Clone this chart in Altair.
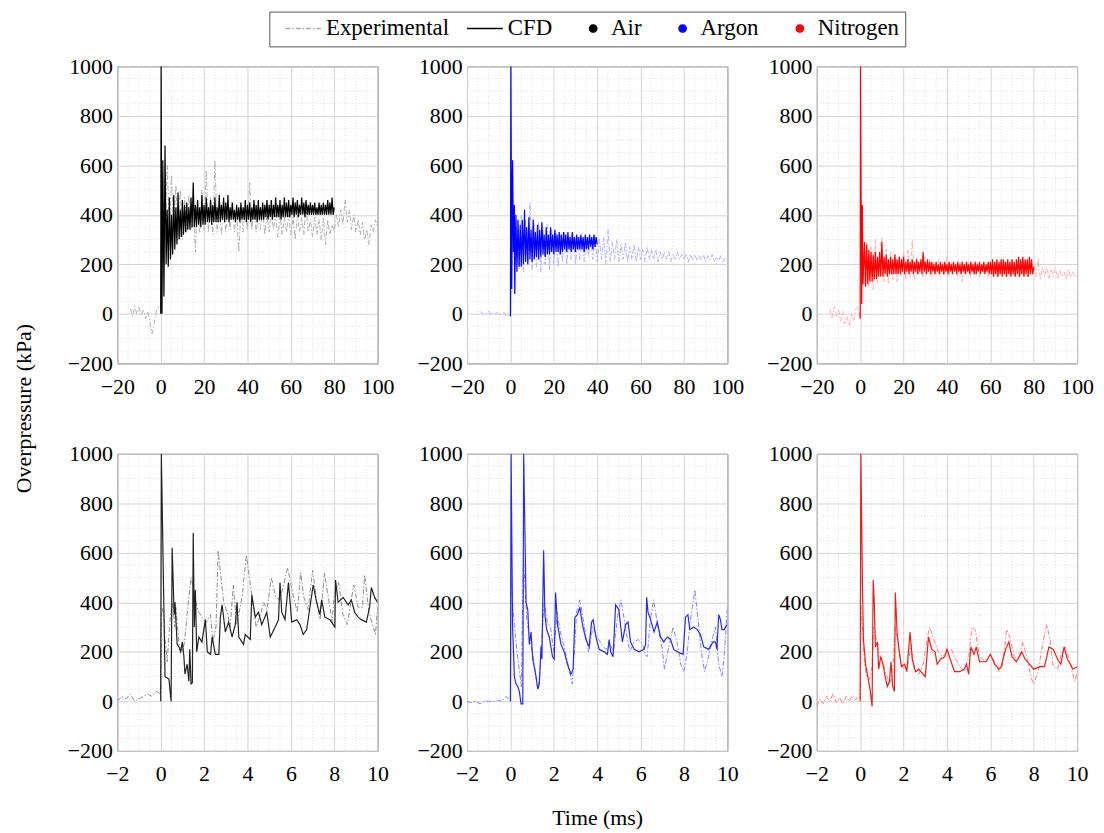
import altair as alt
import pandas as pd

FONT = "Liberation Serif"

# ---------------- long-time (top row) data ----------------
EXP_T0 = -14        # first experimental sample (ms), step 1 ms
EXP_DT = 1.0
CFD_BODY_T0 = 2     # first CFD body sample (ms), step 0.5 ms
CFD_DT = 0.5

AIR_TOP_EXP = [20, -10, 30, 0, 25, -5, 15, -20, 10, -30, -80, -40, 10, 30,
               20, 450, 300, 600, 350, 560, 330, 520, 320, 500,
               300, 470, 330, 480, 340, 470, 250, 460, 330, 500,
               340, 580, 330, 470, 320, 620, 330, 450, 320, 430,
               330, 420, 340, 440, 330, 420, 250, 420, 330, 430,
               340, 530, 340, 420, 330, 410, 340, 420, 320, 400,
               330, 410, 340, 400, 310, 400, 320, 390, 330, 400,
               320, 390, 300, 400, 330, 390, 320, 440, 330, 380,
               310, 390, 320, 380, 300, 390, 280, 380, 320, 360,
               330, 400, 350, 420, 360, 460, 370, 420, 340, 400,
               330, 380, 320, 370, 300, 340, 280, 360, 330, 380, 350]
AIR_TOP_CFD_ONSET_T = [0, 0.2, 0.6, 1.0, 1.5]
AIR_TOP_CFD_ONSET_V = [0, 1000, 0, 620, 70]
AIR_TOP_CFD = [680, 200, 420, 190, 470, 220, 400, 240, 480, 260, 430, 280, 490, 300, 420, 310,
               460, 320, 440, 330, 450, 340, 430, 340, 470, 350, 530, 350, 440, 350, 460, 360,
               430, 350, 480, 360, 440, 360, 470, 370, 430, 370, 460, 360, 440, 370, 470, 370,
               430, 370, 480, 370, 440, 380, 470, 370, 450, 380, 480, 370, 430, 380, 450, 380,
               420, 370, 440, 380, 430, 370, 450, 380, 430, 380, 460, 370, 440, 380, 450, 370,
               430, 380, 460, 380, 440, 370, 460, 380, 430, 380, 450, 380, 440, 390, 460, 380,
               440, 390, 460, 380, 440, 390, 470, 390, 440, 390, 460, 380, 440, 390, 470, 390,
               450, 390, 460, 390, 440, 400, 470, 390, 450, 400, 460, 390, 440, 400, 470, 400,
               450, 390, 460, 400, 440, 400, 450, 400, 440, 400, 450, 400, 430, 400, 450, 400,
               440, 400, 450, 400, 440, 400, 460, 400, 450, 400, 470, 400, 430]

ARGON_TOP_EXP = [10, 0, 5, 0, 10, -5, 5, 0, 5, -5, 0, 5, -10, -5,
                 -10, 300, 200, 380, 180, 400, 170, 380, 200, 450,
                 180, 360, 190, 370, 170, 350, 200, 360, 180, 340,
                 200, 330, 190, 320, 210, 330, 200, 310, 220, 320,
                 200, 310, 220, 300, 210, 310, 230, 300, 220, 320,
                 210, 300, 220, 310, 200, 340, 210, 290, 220, 300,
                 210, 280, 220, 290, 210, 270, 220, 280, 210, 270,
                 220, 260, 210, 270, 220, 260, 220, 260, 210, 250,
                 220, 250, 220, 250, 210, 240, 220, 250, 220, 240,
                 220, 240, 210, 240, 220, 240, 215, 235, 220, 240,
                 210, 235, 220, 240, 210, 230, 215, 235, 210, 225, 215]
ARGON_TOP_CFD_ONSET_T = [0, 0.2, 0.6, 1.0, 1.4, 1.8]
ARGON_TOP_CFD_ONSET_V = [-10, 1000, 100, 620, 250, 440]
ARGON_TOP_CFD = [80, 400, 170, 380, 190, 360, 190, 380, 200, 420, 210, 350, 200, 390, 220, 340,
                 210, 380, 220, 330, 230, 360, 220, 340, 230, 370, 240, 320, 230, 350, 240, 320,
                 240, 350, 250, 320, 240, 340, 250, 320, 250, 330, 240, 320, 250, 330, 260, 320,
                 250, 330, 260, 310, 250, 330, 260, 310, 250, 320, 260, 310, 260, 320, 260, 310,
                 250, 320, 260, 310, 260, 320, 270, 310, 260, 320, 270, 310, 280]

NITRO_TOP_EXP = [20, -20, 30, -10, 20, -30, 10, -40, -10, -50, 0, -30, 20, 30,
                 -20, 250, 120, 290, 110, 270, 100, 300, 120, 250,
                 310, 130, 260, 120, 250, 140, 240, 130, 230, 150,
                 250, 140, 260, 150, 300, 140, 230, 160, 220, 150,
                 230, 160, 220, 150, 210, 160, 220, 150, 210, 160,
                 230, 150, 210, 160, 200, 150, 210, 130, 200, 160,
                 210, 150, 200, 160, 210, 150, 200, 160, 190, 150,
                 200, 160, 190, 150, 200, 160, 190, 150, 200, 160,
                 190, 150, 200, 150, 190, 160, 200, 150, 190, 160,
                 200, 150, 220, 140, 190, 150, 190, 140, 180, 150,
                 190, 140, 180, 150, 170, 140, 180, 150, 170, 150, 165]
NITRO_TOP_CFD_ONSET_T = [0, 0.15, 0.4, 0.7, 1.0, 1.3]
NITRO_TOP_CFD_ONSET_V = [-20, 1000, 490, 40, 440, 120]
NITRO_TOP_CFD = [290, 110, 280, 120, 260, 130, 250, 130, 240, 140, 250, 140, 230, 150, 250, 150,
                 290, 150, 230, 160, 240, 150, 220, 160, 230, 160, 220, 160, 240, 160, 220, 160,
                 230, 160, 220, 170, 230, 160, 210, 170, 220, 160, 210, 170, 220, 160, 210, 170,
                 220, 160, 210, 170, 220, 160, 250, 170, 210, 160, 220, 170, 210, 160, 210, 170,
                 200, 160, 210, 170, 200, 160, 210, 170, 200, 160, 210, 170, 200, 160, 210, 170,
                 200, 160, 210, 170, 200, 160, 210, 170, 200, 160, 210, 170, 200, 160, 210, 170,
                 200, 160, 210, 170, 200, 160, 210, 160, 200, 170, 210, 160, 200, 170, 210, 160,
                 200, 170, 210, 160, 210, 160, 220, 150, 210, 160, 220, 150, 210, 160, 220, 150,
                 220, 160, 210, 150, 220, 160, 210, 150, 220, 160, 210, 150, 220, 160, 230, 150,
                 220, 160, 230, 150, 220, 160, 220, 150, 230, 160, 220, 160, 190]

# ---------------- short-time (bottom row) data ----------------
AIR_BOT_CFD_T = [0, 0.03, 0.2, 0.38, 0.48, 0.53, 0.62, 0.66, 0.76, 0.84, 0.92, 1.0, 1.07, 1.12, 1.22,
                 1.3, 1.34, 1.4, 1.46, 1.5, 1.55, 1.6, 1.66, 1.76, 1.9, 2.06, 2.15, 2.3, 2.37, 2.52,
                 2.68, 2.75, 2.83, 2.98, 3.13, 3.29, 3.44, 3.52, 3.6, 3.82, 3.9, 4.13, 4.2, 4.36, 4.51,
                 4.66, 4.89, 5.05, 5.28, 5.43, 5.5, 5.58, 5.73, 5.89, 6.04, 6.27, 6.42, 6.57, 6.73, 6.88,
                 7.03, 7.19, 7.34, 7.42, 7.57, 7.8, 8.03, 8.06, 8.18, 8.41, 8.64, 8.79, 8.94, 9.1, 9.25,
                 9.48, 9.63, 9.71, 9.86, 10.0]
AIR_BOT_CFD_V = [0, 1000, 100, 90, 0, 620, 350, 400, 230, 220, 200, 240, 180, 110, 150,
                 80, 210, 70, 75, 680, 300, 450, 200, 260, 240, 330, 200, 190, 260, 190,
                 190, 340, 390, 280, 320, 260, 310, 400, 260, 230, 270, 250, 430, 340, 360,
                 310, 360, 260, 300, 330, 480, 360, 330, 480, 320, 330, 310, 270, 290, 380,
                 470, 400, 350, 410, 340, 330, 300, 490, 400, 420, 390, 410, 360, 340, 330,
                 320, 380, 460, 420, 400]
AIR_BOT_EXP_T = [-2, -1.8, -1.6, -1.4, -1.2, -1.0, -0.8, -0.6, -0.4, -0.2, 0,
                 0.05, 0.15, 0.2, 0.3, 0.45, 0.55, 0.65, 0.7, 0.85, 1.0, 1.1, 1.25, 1.4, 1.5, 1.7,
                 1.9, 2.1, 2.3, 2.4, 2.55, 2.65, 2.9, 3.1, 3.2, 3.35, 3.5, 3.75, 3.95, 4.2, 4.4,
                 4.6, 4.75, 4.9, 5.1, 5.3, 5.5, 5.85, 6.1, 6.3, 6.45, 6.6, 6.8, 7.0, 7.2, 7.35,
                 7.55, 7.8, 7.9, 8.0, 8.2, 8.4, 8.6, 8.9, 9.1, 9.3, 9.4, 9.6, 9.9, 10.0]
AIR_BOT_EXP_V = [0, 20, 10, 30, 0, 10, 20, 30, 20, 40, 30,
                 380, 350, 250, 160, 350, 400, 300, 380, 230, 200, 240, 380, 500, 460, 370,
                 340, 320, 350, 240, 300, 610, 400, 350, 300, 470, 310, 420, 590, 430, 300,
                 350, 400, 370, 500, 420, 410, 540, 430, 360, 520, 420, 370, 530, 400, 330,
                 520, 380, 320, 430, 480, 350, 310, 470, 380, 380, 510, 360, 270, 380]

ARGON_BOT_CFD_T = [0, 0.03, 0.1, 0.18, 0.26, 0.34, 0.41, 0.49, 0.57, 0.61, 0.72, 0.8, 0.87, 0.95, 1.03,
                   1.18, 1.26, 1.33, 1.41, 1.45, 1.53, 1.59, 1.67, 1.79, 1.94, 2.02, 2.08, 2.17, 2.33, 2.48,
                   2.63, 2.79, 2.89, 2.97, 3.09, 3.2, 3.32, 3.48, 3.63, 3.74, 3.81, 3.94, 4.09, 4.32, 4.47,
                   4.55, 4.62, 4.73, 4.85, 5.0, 5.16, 5.31, 5.42, 5.54, 5.7, 5.93, 6.16, 6.23, 6.28, 6.34,
                   6.46, 6.62, 6.77, 6.92, 7.07, 7.23, 7.38, 7.53, 7.69, 7.96, 8.07, 8.18, 8.27, 8.45, 8.61,
                   8.76, 8.91, 9.14, 9.34, 9.45, 9.52, 9.6, 9.68, 9.75, 9.86, 9.98]
ARGON_BOT_CFD_V = [0, 1000, 300, 100, 70, 60, 40, -10, -10, 1000, 400, 370, 230, 280, 170,
                   100, 50, 70, 220, 170, 610, 350, 290, 260, 180, 170, 440, 310, 230, 200,
                   150, 110, 130, 340, 350, 380, 310, 250, 220, 320, 330, 260, 210, 200, 190,
                   250, 200, 180, 390, 370, 240, 310, 320, 240, 210, 200, 210, 230, 420, 360,
                   330, 280, 320, 260, 240, 260, 250, 210, 200, 190, 340, 350, 290, 300, 290,
                   270, 220, 210, 240, 240, 210, 350, 330, 290, 290, 310]
ARGON_BOT_EXP_T = [-2, -1.8, -1.6, -1.4, -1.2, -1.0, -0.8, -0.6, -0.4, -0.2, -0.1, 0,
                   0.02, 0.1, 0.2, 0.3, 0.45, 0.5, 0.6, 0.75, 0.9, 1.0, 1.1, 1.25, 1.35, 1.45, 1.55,
                   1.7, 1.85, 2.0, 2.15, 2.3, 2.45, 2.6, 2.85, 2.95, 3.05, 3.2, 3.45, 3.6, 3.7, 3.8,
                   4.0, 4.2, 4.4, 4.6, 4.75, 4.95, 5.1, 5.3, 5.5, 5.7, 5.9, 6.1, 6.2, 6.3, 6.45,
                   6.6, 6.8, 7.0, 7.1, 7.25, 7.5, 7.7, 7.85, 8.0, 8.15, 8.3, 8.5, 8.65, 8.8, 8.95,
                   9.1, 9.3, 9.45, 9.6, 9.75, 9.85, 10.0]
ARGON_BOT_EXP_V = [0, -5, 0, -10, 0, 0, 0, 5, 0, 20, 10, 0,
                   500, 400, 300, 200, 100, 60, 580, 330, 250, 200, 150, 50, 100, 260, 400,
                   320, 300, 200, 360, 280, 230, 170, 70, 200, 360, 410, 280, 200, 250, 300,
                   260, 230, 210, 230, 200, 350, 410, 300, 200, 240, 250, 230, 190, 180, 330,
                   410, 300, 210, 130, 200, 300, 230, 150, 120, 200, 330, 450, 330, 200, 120,
                   170, 250, 300, 150, 100, 180, 380]

NITRO_BOT_CFD_T = [0, 0.03, 0.1, 0.15, 0.25, 0.35, 0.45, 0.55, 0.6, 0.65, 0.7, 0.8, 0.85, 0.95, 1.05,
                   1.15, 1.25, 1.35, 1.42, 1.5, 1.58, 1.62, 1.7, 1.8, 1.9, 2.05, 2.15, 2.3, 2.4, 2.55,
                   2.7, 2.9, 3.0, 3.15, 3.3, 3.45, 3.55, 3.7, 3.9, 4.0, 4.15, 4.35, 4.6, 4.8, 4.9,
                   5.0, 5.1, 5.25, 5.35, 5.5, 5.8, 6.0, 6.2, 6.4, 6.5, 6.7, 6.85, 7.0, 7.2, 7.45,
                   7.6, 7.8, 8.0, 8.3, 8.5, 8.7, 8.9, 9.1, 9.25, 9.4, 9.55, 9.7, 9.8, 10.0]
NITRO_BOT_CFD_V = [0, 1000, 500, 250, 150, 100, 50, -20, 490, 400, 220, 240, 130, 180, 150,
                   100, 60, 80, 160, 60, 40, 440, 280, 200, 140, 150, 120, 280, 170, 120,
                   130, 110, 100, 260, 210, 200, 150, 170, 180, 210, 170, 120, 120, 130, 150,
                   110, 220, 190, 220, 160, 160, 190, 150, 130, 140, 210, 240, 180, 160, 200,
                   170, 150, 130, 140, 140, 220, 210, 170, 150, 220, 170, 150, 130, 140]
NITRO_BOT_EXP_T = [-2, -1.85, -1.7, -1.55, -1.4, -1.25, -1.1, -0.95, -0.8, -0.65, -0.5, -0.35, -0.2, -0.1, 0,
                   0.03, 0.1, 0.2, 0.3, 0.45, 0.55, 0.62, 0.72, 0.85, 1.0, 1.2, 1.35, 1.5, 1.6, 1.7,
                   1.85, 2.0, 2.2, 2.35, 2.5, 2.7, 2.9, 3.1, 3.2, 3.4, 3.6, 3.8, 4.0, 4.2, 4.4,
                   4.6, 4.8, 5.0, 5.15, 5.3, 5.5, 5.8, 6.0, 6.2, 6.4, 6.55, 6.75, 6.9, 7.1, 7.3,
                   7.5, 7.65, 7.9, 8.0, 8.2, 8.45, 8.6, 8.75, 8.9, 9.1, 9.3, 9.45, 9.6, 9.8, 9.9, 10.0]
NITRO_BOT_EXP_V = [-20, 10, -10, 20, 0, 30, -5, 15, -10, 20, 0, 25, 5, 20, 10,
                   390, 300, 150, 100, 90, 140, 300, 260, 200, 170, 110, 70, 100, 300, 260,
                   170, 130, 150, 230, 130, 110, 150, 260, 300, 250, 200, 180, 200, 210, 170,
                   140, 120, 180, 300, 290, 180, 160, 190, 160, 120, 140, 290, 260, 180, 170,
                   240, 190, 90, 70, 120, 250, 310, 250, 140, 130, 200, 220, 180, 110, 80, 120]

# ---------------- axes / ticks ----------------
Y_DOMAIN = [-200, 1000]
Y_TICKS = [-200, 0, 200, 400, 600, 800, 1000]
Y_MINOR = [-150, -100, -50, 50, 100, 150, 250, 300, 350, 450, 500, 550, 650, 700, 750, 850, 900, 950]
TOP_X_DOMAIN = [-20, 100]
TOP_X_TICKS = [-20, 0, 20, 40, 60, 80, 100]
TOP_X_MINOR = [-15, -10, -5, 5, 10, 15, 25, 30, 35, 45, 50, 55, 65, 70, 75, 85, 90, 95]
BOT_X_DOMAIN = [-2, 10]
BOT_X_TICKS = [-2, 0, 2, 4, 6, 8, 10]
BOT_X_MINOR = [-1.5, -1, -0.5, 0.5, 1, 1.5, 2.5, 3, 3.5, 4.5, 5, 5.5, 6.5, 7, 7.5, 8.5, 9, 9.5]

LEGEND_KEYS = ["Experimental", "CFD", "Air", "Argon", "Nitrogen"]
LINE_PATH = "M-0.6,0L1,0"
DOT_PATH = "M0.26,0A0.16,0.16,0,1,1,0.58,0A0.16,0.16,0,1,1,0.26,0Z"
LEGEND_SHAPES = [LINE_PATH, LINE_PATH, DOT_PATH, DOT_PATH, DOT_PATH]
LEGEND_STROKES = ["#a8a8a8", "#000000", "#000000", "#0000ff", "#ff0000"]
LEGEND_FILLS = ["transparent", "transparent", "#000000", "#0000ff", "#ff0000"]
LEGEND_DASHES = [[5, 2, 1.5, 2], [1, 0], [1, 0], [1, 0], [1, 0]]

EXP_DASH = [5, 2, 1.5, 2]


def seq(start, n, step):
    return [start + i * step for i in range(n)]


def panel(exp_t, exp_v, cfd_t, cfd_v, xdom, xticks, xminor, cfd_color, exp_color,
          cfd_width, exp_width, xtitle=None, ytitle=None, legend=False, w=262, h=299):
    xs = alt.Scale(domain=xdom, nice=False, zero=False)
    ys = alt.Scale(domain=Y_DOMAIN, nice=False, zero=False)
    common = dict(grid=True, labelFont=FONT, labelFontSize=22, labelColor="black",
                  labelOverlap=False, labelFlush=False, format="d", domain=False, ticks=False)
    if xtitle:
        xaxis = alt.Axis(values=xticks, title=xtitle, titlePadding=23, titleFont=FONT,
                         titleFontSize=22, titleFontWeight="normal", titleColor="black",
                         labelPadding=13, **common)
    else:
        xaxis = alt.Axis(values=xticks, title=None, labelPadding=13, **common)
    if ytitle:
        yaxis = alt.Axis(values=Y_TICKS, title=ytitle, titleX=-94, titleY=344,
                         titleBaseline="middle", titleAlign="center", titleFont=FONT,
                         titleFontSize=22, titleFontWeight="normal", titleColor="black",
                         labelPadding=5, **common)
    else:
        yaxis = alt.Axis(values=Y_TICKS, title=None, labelPadding=5, **common)
    X = alt.X("t:Q", scale=xs, axis=xaxis)
    Y = alt.Y("v:Q", scale=ys, axis=yaxis)

    gx = alt.Chart(pd.DataFrame({"t": xminor})).mark_rule(
        color="#d9d9d9", strokeWidth=0.8, strokeDash=[1, 2]).encode(x=X)
    gy = alt.Chart(pd.DataFrame({"v": Y_MINOR})).mark_rule(
        color="#d9d9d9", strokeWidth=0.8, strokeDash=[1, 2]).encode(y=Y)
    exp = alt.Chart(pd.DataFrame({"t": exp_t, "v": exp_v})).mark_line(
        clip=True, color=exp_color, strokeWidth=exp_width, strokeDash=EXP_DASH).encode(x=X, y=Y)
    cfd = alt.Chart(pd.DataFrame({"t": cfd_t, "v": cfd_v})).mark_line(
        clip=True, color=cfd_color, strokeWidth=cfd_width).encode(x=X, y=Y)
    layers = [gx, gy, exp, cfd]
    if legend:
        leg = alt.Legend(title=None, orient="none", legendX=153, legendY=-55,
                         direction="horizontal", clipHeight=22, symbolSize=2025,
                         symbolStrokeWidth=1.5, symbolOpacity=1,
                         labelFont=FONT, labelFontSize=23, labelColor="black",
                         labelOffset=4, columnPadding=8, strokeColor="#555555",
                         padding=6, fillColor="white")
        dummy = alt.Chart(pd.DataFrame({"key": LEGEND_KEYS})).mark_point(
            opacity=0, strokeWidth=1.5).encode(
            shape=alt.Shape("key:N", scale=alt.Scale(domain=LEGEND_KEYS, range=LEGEND_SHAPES), legend=leg),
            stroke=alt.Stroke("key:N", scale=alt.Scale(domain=LEGEND_KEYS, range=LEGEND_STROKES), legend=leg),
            fill=alt.Fill("key:N", scale=alt.Scale(domain=LEGEND_KEYS, range=LEGEND_FILLS), legend=leg),
            strokeDash=alt.StrokeDash("key:N", scale=alt.Scale(domain=LEGEND_KEYS, range=LEGEND_DASHES), legend=leg),
        )
        layers.append(dummy)
    return alt.layer(*layers).properties(width=w, height=h)


air_top_cfd_t = AIR_TOP_CFD_ONSET_T + seq(CFD_BODY_T0, len(AIR_TOP_CFD), CFD_DT)
argon_top_cfd_t = ARGON_TOP_CFD_ONSET_T + seq(CFD_BODY_T0, len(ARGON_TOP_CFD), CFD_DT)
nitro_top_cfd_t = NITRO_TOP_CFD_ONSET_T + seq(CFD_BODY_T0, len(NITRO_TOP_CFD), CFD_DT)

p1 = panel(seq(EXP_T0, len(AIR_TOP_EXP), EXP_DT), AIR_TOP_EXP, air_top_cfd_t, AIR_TOP_CFD_ONSET_V + AIR_TOP_CFD,
           TOP_X_DOMAIN, TOP_X_TICKS, TOP_X_MINOR, "#000000", "#a8a8a8", 1.2, 0.9,
           ytitle="Overpressure (kPa)", legend=True)
p2 = panel(seq(EXP_T0, len(ARGON_TOP_EXP), EXP_DT), ARGON_TOP_EXP, argon_top_cfd_t, ARGON_TOP_CFD_ONSET_V + ARGON_TOP_CFD,
           TOP_X_DOMAIN, TOP_X_TICKS, TOP_X_MINOR, "#0000ff", "#a8a8ff", 1.2, 0.9)
p3 = panel(seq(EXP_T0, len(NITRO_TOP_EXP), EXP_DT), NITRO_TOP_EXP, nitro_top_cfd_t, NITRO_TOP_CFD_ONSET_V + NITRO_TOP_CFD,
           TOP_X_DOMAIN, TOP_X_TICKS, TOP_X_MINOR, "#ff0000", "#ffa8a8", 1.2, 0.9)
p4 = panel(AIR_BOT_EXP_T, AIR_BOT_EXP_V, AIR_BOT_CFD_T, AIR_BOT_CFD_V,
           BOT_X_DOMAIN, BOT_X_TICKS, BOT_X_MINOR, "#222222", "#8c8c8c", 1.2, 1.0)
p5 = panel(ARGON_BOT_EXP_T, ARGON_BOT_EXP_V, ARGON_BOT_CFD_T, ARGON_BOT_CFD_V,
           BOT_X_DOMAIN, BOT_X_TICKS, BOT_X_MINOR, "#2a2ae6", "#8080ff", 1.2, 1.0, xtitle="Time (ms)")
p6 = panel(NITRO_BOT_EXP_T, NITRO_BOT_EXP_V, NITRO_BOT_CFD_T, NITRO_BOT_CFD_V,
           BOT_X_DOMAIN, BOT_X_TICKS, BOT_X_MINOR, "#e61e1e", "#ff8080", 1.2, 1.0)

chart = alt.concat(p1, p2, p3, p4, p5, p6, columns=3,
                   spacing={"row": 91, "column": 90}, bounds="flush").properties(
    padding={"left": 4, "top": 0, "right": 2, "bottom": 0}
).configure_view(stroke="#555555", strokeWidth=1).configure_axis(
    labelFont=FONT, labelFontSize=22, labelColor="black", gridColor="#d4d4d4", gridWidth=1,
    domain=False, ticks=False, titleFont=FONT, titleFontSize=22, titleFontWeight="normal",
    titleColor="black")

chart.save("out.html", embed_options={"renderer": "svg", "actions": False})
